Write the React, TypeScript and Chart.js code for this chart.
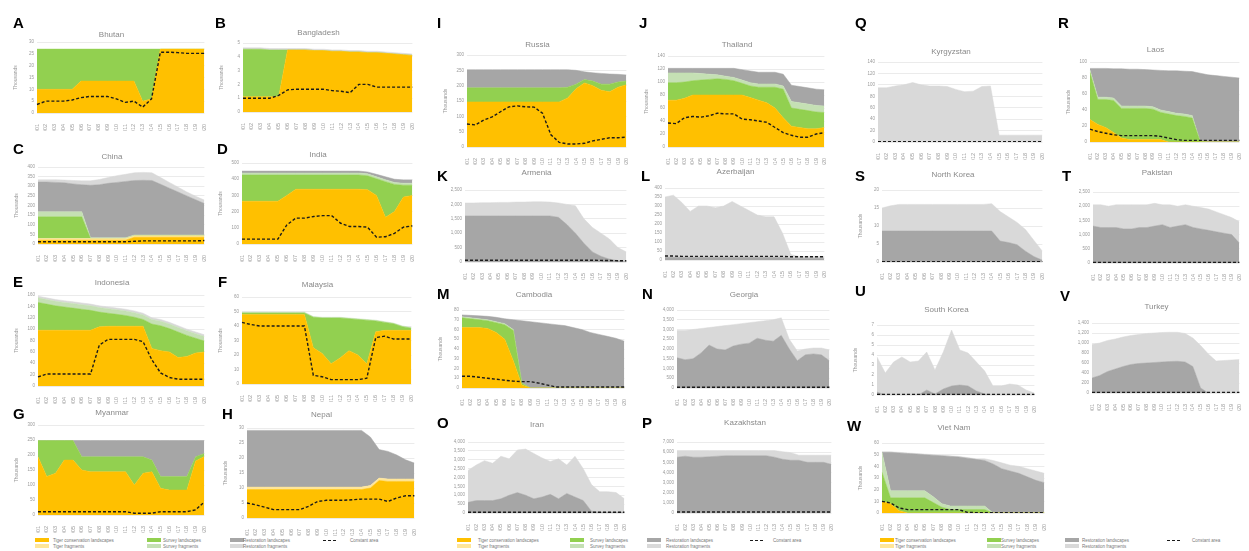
import React, { useEffect, useRef } from 'react';
import { Chart, registerables } from 'chart.js';
Chart.register(...registerables);
Chart.defaults.font.family = "'Liberation Sans', Arial, sans-serif";

const years = ['2001','2002','2003','2004','2005','2006','2007','2008','2009','2010','2011','2012','2013','2014','2015','2016','2017','2018','2019','2020'];

// A Bhutan
const bhutanTCL = [10,10,10,10,10,13.5,13.5,13.5,13.5,13.5,13.5,13.5,5,6,27,27,27,27,27,27];
const bhutanSurvey = [17,17,17,17,17,13.5,13.5,13.5,13.5,13.5,13.5,13.5,22,21,0,0,0,0,0,0];
const bhutanConst = [3.6,5,5,5,5.5,6.5,7,7,7,6,4.5,5,2.5,6,25.7,25.7,25.5,25.2,25.2,25.2];
// B Bangladesh
const bangladeshTCL = [1.1,1.1,1.1,1.1,1.1,4.5,4.5,4.5,4.45,4.45,4.4,4.4,4.35,4.35,4.3,4.3,4.25,4.2,4.15,4.1];
const bangladeshSurvey = [3.45,3.45,3.45,3.4,3.4,0,0,0,0,0,0,0,0,0,0,0,0,0,0,0];
const bangladeshRestFrag = [0.1,0.1,0.1,0.1,0.1,0.1,0.1,0.1,0.1,0.1,0.1,0.1,0.1,0.1,0.1,0.1,0.1,0.1,0.1,0.1];
const bangladeshConst = [1.0,1.0,1.0,1.0,1.2,1.6,1.65,1.65,1.65,1.65,1.55,1.5,1.4,2.0,2.0,1.8,1.8,1.8,1.8,1.8];
// C China
const chinaTCL = [20,20,20,20,20,20,20,20,20,20,20,35,35,35,35,35,35,35,35,35];
const chinaTCLFrag = [8,8,8,8,8,8,8,8,8,8,8,8,8,8,8,8,8,8,8,8];
const chinaSurvey = [113,113,113,113,113,113,0,0,0,0,0,0,0,0,0,0,0,0,0,0];
const chinaSurveyFrag = [26,26,26,26,26,26,4,4,4,4,4,4,4,4,4,4,4,4,4,4];
const chinaRest = [155,155,153,151,145,141,273,276,283,288,293,283,284,283,263,243,223,203,183,163];
const chinaRestFrag = [12,12,14,14,18,20,23,27,30,35,37,40,41,40,35,30,25,20,18,18];
const chinaConst = [12,12,12,12,12,12,12,12,12,12,12,14,16,16,16,16,16,16,16,18];
// D India
const indiaTCL = [264,264,264,264,264,300,338,338,338,338,338,338,338,338,335,300,165,200,290,300];
const indiaSurvey = [162,162,162,162,162,126,88,88,88,88,88,88,88,88,86,103,220,168,73,63];
const indiaSurveyFrag = [12,12,12,12,12,12,12,12,12,12,12,12,12,12,12,12,12,12,12,12];
const indiaRest = [12,12,12,12,12,12,12,12,12,12,12,12,12,12,12,15,18,20,20,20];
const indiaConst = [30,30,30,30,30,118,160,160,170,175,175,128,108,108,104,42,45,66,104,112];
// E Indonesia
const indonesiaTCL = [98,98,98,98,98,98,98,104,105,105,105,105,105,66,62,60,50,52,58,60];
const indonesiaSurvey = [49,46,43,41,39,37,35,26,23,21,19,16,12,43,44,41,45,37,26,19];
const indonesiaSurveyFrag = [8,8,8,8,8,8,8,8,8,8,8,8,8,8,8,8,8,8,8,8];
const indonesiaRestFrag = [3,3,3,3,3,3,3,3,3,3,3,3,3,3,3,3,3,3,3,3];
const indonesiaConst = [16,21,21,21,21,21,21,72,82,82,82,82,78,46,23,15,12,12,12,12];
// F Malaysia
const malaysiaTCL = [48,48,48,48,48,48,48,48,25,21,14,18,23,20,14,36,37,37,37,37];
const malaysiaSurvey = [1,1,1,1,1,1,1,1,21,24.5,31.5,27.5,22,24.5,30,7.5,5.5,4.5,2.5,1.5];
const malaysiaSurveyFrag = [0.5,0.5,0.5,0.5,0.5,0.5,0.5,0.5,0.5,0.5,0.5,0.5,0.5,0.5,0.5,0.5,0.5,0.5,0.5,0.5];
const malaysiaConst = [42.5,41,40,40,40,40,40,40,6,5,3,3,3,3,4,32,33,31,31,31];
// G Myanmar
const myanmarTCL = [194,128,139,183,183,150,144,144,144,144,144,100,139,144,89,83,83,83,180,195];
const myanmarSurvey = [54,120,109,65,65,44,50,50,50,50,50,94,55,39,39,45,45,45,14,10];
const myanmarRest = [0,0,0,0,0,54,54,54,54,54,54,54,54,65,120,120,120,120,54,43];
const myanmarConst = [11,11,11,11,11,11,11,11,11,11,11,6,6,6,11,11,11,11,17,44];
// H Nepal
const nepalTCL = [9.5,9.5,9.5,9.5,9.5,9.5,9.5,9.5,9.5,9.5,9.5,9.5,9.5,9.5,10,12.5,12.2,12.2,12.2,12.2];
const nepalTCLFrag = [0.8,0.8,0.8,0.8,0.8,0.8,0.8,0.8,0.8,0.8,0.8,0.8,0.8,0.8,0.8,0.8,0.8,0.8,0.8,0.8];
const nepalRest = [18.9,18.9,18.9,18.9,18.9,18.9,18.9,18.9,18.9,18.9,18.9,18.9,18.9,18.9,16.2,9.5,9.2,8,6.4,5.3];
const nepalConst = [5,4.4,3.6,2.8,2.8,2.8,2.8,3.9,5.5,5.9,5.9,5.9,6.1,6.3,6.3,6.3,5.5,6.7,7.4,7.4];
// I Russia
const russiaTCL = [147,147,147,147,147,147,147,147,147,147,147,147,160,190,209,200,185,180,195,203];
const russiaSurvey = [46,46,46,46,46,46,46,46,46,46,46,46,35,15,11,15,20,25,17,12];
const russiaRest = [59,59,59,59,59,59,59,59,59,59,59,59,57,45,25,27,35,33,25,20];
const russiaConst = [75,72,88,98,115,131,134,131,130,110,40,15,10,10,12,20,25,30,30,32];
// J Thailand
const thailandTCL = [72,72,75,80,80,80,80,80,80,80,76,72,68,60,45,32,30,28,28,30];
const thailandSurvey = [27,27,25,22,23,24,25,24,22,18,18,20,24,32,44,28,28,28,26,23];
const thailandSurveyFrag = [15,15,14,12,10,8,6,5,5,5,5,5,5,5,5,10,10,10,10,10];
const thailandRest = [7,7,7,7,8,9,10,12,14,16,18,18,18,18,18,25,25,25,25,25];
const thailandConst = [37,36,45,47,46,48,52,51,51,43,42,40,38,30,22,18,15,15,20,22];
// K Armenia
const armeniaRest = [1600,1600,1600,1600,1600,1600,1600,1600,1600,1600,1600,1550,1300,1000,650,350,200,100,50,20];
const armeniaRestFrag = [450,450,460,460,470,470,480,480,490,490,480,500,700,950,850,850,800,700,450,330];
const armeniaConst = [60,60,60,60,60,60,60,60,60,60,60,60,60,60,60,60,55,50,45,40];
// L Azerbaijan
const azerbaijanRest = [15,15,15,15,15,15,15,15,15,15,15,15,15,15,15,10,10,10,10,10];
const azerbaijanRestFrag = [335,345,305,255,285,285,275,285,310,285,260,235,225,225,135,20,10,10,10,10];
const azerbaijanConst = [22,22,20,20,20,20,20,20,20,20,20,20,20,20,20,18,18,18,18,18];
// M Cambodia
const cambodiaTCL = [62,62,62,61,57,50,28,3,0,0,0,0,0,0,0,0,0,0,0,0];
const cambodiaSurvey = [10,9,8,8,10,15,31,2,0,0,0,0,0,0,0,0,0,0,0,0];
const cambodiaSurveyFrag = [1,1,1,1,1,1,1,0,0,0,0,0,0,0,0,0,0,0,0,0];
const cambodiaRest = [2,2.5,3,3.5,4.5,5,10,64,68,67,66,65,64,62,60,57,55,53,51,48];
const cambodiaConst = [12,12,11,10,9,8,7,6.5,6.5,5,3,1,1,1,1,1,1,1,1,1];
// N Georgia
const georgiaRest = [1550,1450,1500,1800,2200,2000,1950,2150,2250,2300,2550,2450,2400,2700,2000,1400,1700,1750,1700,1400];
const georgiaRestFrag = [1400,1500,1500,1250,900,1150,1250,1100,1050,1050,850,1000,1100,900,500,500,300,300,350,550];
const georgiaConst = [40,40,40,40,40,40,40,40,40,40,40,40,40,40,40,40,40,40,40,40];
// O Iran
const iranRest = [600,700,700,700,800,1000,1150,1000,800,900,1050,800,1100,900,700,100,50,50,50,50];
const iranRestFrag = [1800,2000,2250,2100,2400,2050,2400,2600,2550,2200,1850,2250,1600,2300,1800,1500,1150,1150,1100,750];
const iranConst = [40,40,40,40,40,40,40,40,40,40,40,40,40,40,40,40,40,40,40,40];
// P Kazakhstan
const kazakhstanRest = [5500,5600,5500,5500,5550,5600,5650,5650,5650,5650,5650,5650,5500,5300,5200,5200,5000,5000,5000,4800];
const kazakhstanRestFrag = [650,550,650,650,600,550,500,500,500,500,500,500,650,750,750,500,700,700,700,900];
const kazakhstanConst = [100,100,100,100,100,100,100,100,100,100,100,100,100,100,100,100,100,100,100,100];
// Q Kyrgyzstan
const kyrgyzstanRestFrag = [95,95,98,100,104,100,98,98,97,92,88,89,97,98,12,12,12,12,12,12];
const kyrgyzstanConst = [0.5,0.5,0.5,0.5,0.5,0.5,0.5,0.5,0.5,0.5,0.5,0.5,0.5,0.5,0.5,0.5,0.5,0.5,0.5,0.5];
// R Laos
const laosTCL = [28,22,18,12,5,3,3,3,3,3,0,0,0,0,0,0,0,0,0,0];
const laosSurvey = [59,31,35,40,37,39,39,39,38,34,35,33,32,30,1,0,0,0,0,0];
const laosSurveyFrag = [3,3,3,3,3,3,3,3,3,3,3,3,3,3,0,0,0,0,0,0];
const laosRest = [2,36,36,36.5,46.5,46,46,45.5,46,49.5,51,53,53.5,55,85,84,83,82,81,80];
const laosConst = [16,13,11,9,8,8,8,8,8,7,5,3,2,2,2,2,2,2,2,2];
// S North Korea
const northKoreaRest = [8.6,8.6,8.6,8.6,8.6,8.6,8.6,8.6,8.6,8.6,8.6,8.6,8.6,8.6,5.8,5.4,4.8,3,1.5,0.5];
const northKoreaRestFrag = [6.4,7,7.4,7.4,7.4,7.4,7.4,7.4,7.4,7.4,7.4,7.4,7.4,7.6,8.2,7.1,6.2,6,4.5,2.5];
const northKoreaConst = [0.1,0.1,0.1,0.1,0.1,0.1,0.1,0.1,0.1,0.1,0.1,0.1,0.1,0.1,0.1,0.1,0.1,0.1,0.1,0.1];
// T Pakistan
const pakistanRest = [1300,1250,1250,1250,1200,1200,1250,1250,1300,1350,1250,1300,1350,1250,1200,1150,1100,1050,1000,700];
const pakistanRestFrag = [750,800,750,800,850,850,800,800,800,700,800,700,700,750,750,750,700,650,600,750];
const pakistanConst = [20,20,20,20,20,20,20,20,20,20,20,20,20,20,20,20,20,20,20,20];
// U South Korea
const southKoreaRest = [0.3,0,0,0,0,0,0.5,0.1,0.6,0.9,1.0,0.9,0.4,0.1,0,0,0,0,0,0];
const southKoreaRestFrag = [3.5,2.2,3.3,3.8,3.3,3.4,3.8,2.4,3.7,5.6,3.5,3.3,2.9,2.3,0.9,0.9,1.1,1.0,0.5,0.2];
const southKoreaConst = [0.05,0.05,0.05,0.05,0.05,0.05,0.05,0.05,0.05,0.05,0.05,0.05,0.05,0.05,0.05,0.05,0.05,0.05,0.05,0.05];
// V Turkey
const turkeyRest = [300,350,430,480,530,570,590,600,610,620,630,635,620,530,100,0,0,0,0,0];
const turkeyRestFrag = [670,650,620,600,590,580,580,590,590,590,585,580,570,570,850,780,640,650,660,670];
const turkeyConst = [10,10,10,10,10,10,10,10,10,10,10,10,10,10,10,10,10,10,10,10];
// W Viet Nam
const vietnamTCL = [10,8,2,0,0,0,0,0,0,0,0,0,0,0,0,0,0,0,0,0];
const vietnamSurvey = [25,5,11,13,13,13,9,5,3,3,3,3,3,0,0,0,0,0,0,0];
const vietnamSurveyFrag = [17,6,6,6,6,6,5,3,3,3,3,3,3,0,0,0,0,0,0,0];
const vietnamRest = [0,33,32.5,32,31.5,31,35.5,41,42.5,42,41,40,39,42,38,36,34,31,28,26];
const vietnamRestFrag = [0.5,0.5,0.5,0.5,0.5,0.5,0.5,0.5,0.5,0.5,0.5,0.5,1.5,3,5,5,6,7,8,8];
const vietnamConst = [10,8.6,4.3,2.9,2.9,2.9,2.9,2.9,2.9,2.9,0.5,0.3,0.3,0.3,0.2,0.2,0.2,0.2,0.2,0.2];

const seriesLabels = ['Tiger conservation landscapes','Tiger fragments','Survey landscapes','Survey fragments','Restoration landscapes','Restoration fragments'];
const constLabel = 'Constant area';
const COLORS = ['#FFC000','#FFE699','#92D050','#C5E0B4','#A6A6A6','#D9D9D9'];

type Series = (number[] | null)[];
type PanelDef = {
  letter: string; title: string; x: number; y: number; w: number; h: number; titleY: number;
  max: number; step: number; yTitle: boolean; series: Series; constant: number[];
  lx: number; ly: number;
};

const YW = 24;
const XH = 18;

const panels: PanelDef[] = [
  { letter:'A', title:'Bhutan', x:37, y:42, w:173, h:71, titleY:35, max:30, step:5, yTitle:true, series:[bhutanTCL,null,bhutanSurvey,null,null,null], constant:bhutanConst, lx:13, ly:17 },
  { letter:'B', title:'Bangladesh', x:243, y:43, w:175, h:69, titleY:33, max:5, step:1, yTitle:true, series:[bangladeshTCL,null,bangladeshSurvey,null,null,bangladeshRestFrag], constant:bangladeshConst, lx:215, ly:17 },
  { letter:'C', title:'China', x:38, y:167, w:172, h:77, titleY:157, max:400, step:50, yTitle:true, series:[chinaTCL,chinaTCLFrag,chinaSurvey,chinaSurveyFrag,chinaRest,chinaRestFrag], constant:chinaConst, lx:13, ly:143 },
  { letter:'D', title:'India', x:242, y:163, w:176, h:81, titleY:155, max:500, step:100, yTitle:true, series:[indiaTCL,null,indiaSurvey,indiaSurveyFrag,indiaRest,null], constant:indiaConst, lx:217, ly:143 },
  { letter:'E', title:'Indonesia', x:38, y:295, w:172, h:91, titleY:283, max:160, step:20, yTitle:true, series:[indonesiaTCL,null,indonesiaSurvey,indonesiaSurveyFrag,null,indonesiaRestFrag], constant:indonesiaConst, lx:13, ly:276 },
  { letter:'F', title:'Malaysia', x:242, y:297, w:175, h:87, titleY:285, max:60, step:10, yTitle:true, series:[malaysiaTCL,null,malaysiaSurvey,malaysiaSurveyFrag,null,null], constant:malaysiaConst, lx:218, ly:276 },
  { letter:'G', title:'Myanmar', x:38, y:425, w:172, h:90, titleY:413, max:300, step:50, yTitle:true, series:[myanmarTCL,null,myanmarSurvey,null,myanmarRest,null], constant:myanmarConst, lx:13, ly:408 },
  { letter:'H', title:'Nepal', x:247, y:428, w:173, h:90, titleY:415, max:30, step:5, yTitle:true, series:[nepalTCL,nepalTCLFrag,null,null,nepalRest,null], constant:nepalConst, lx:222, ly:408 },
  { letter:'I', title:'Russia', x:467, y:55, w:165, h:92, titleY:45, max:300, step:50, yTitle:true, series:[russiaTCL,null,russiaSurvey,null,russiaRest,null], constant:russiaConst, lx:437, ly:17 },
  { letter:'J', title:'Thailand', x:668, y:56, w:162, h:91, titleY:45, max:140, step:20, yTitle:true, series:[thailandTCL,null,thailandSurvey,thailandSurveyFrag,thailandRest,null], constant:thailandConst, lx:639, ly:17 },
  { letter:'K', title:'Armenia', x:465, y:190, w:167, h:72, titleY:173, max:2500, step:500, yTitle:false, series:[null,null,null,null,armeniaRest,armeniaRestFrag], constant:armeniaConst, lx:437, ly:170 },
  { letter:'L', title:'Azerbaijan', x:665, y:188, w:165, h:72, titleY:172, max:400, step:50, yTitle:false, series:[null,null,null,null,azerbaijanRest,azerbaijanRestFrag], constant:azerbaijanConst, lx:641, ly:170 },
  { letter:'M', title:'Cambodia', x:462, y:310, w:168, h:78, titleY:295, max:80, step:10, yTitle:true, series:[cambodiaTCL,null,cambodiaSurvey,cambodiaSurveyFrag,cambodiaRest,null], constant:cambodiaConst, lx:437, ly:288 },
  { letter:'N', title:'Georgia', x:677, y:310, w:158, h:78, titleY:295, max:4000, step:500, yTitle:false, series:[null,null,null,null,georgiaRest,georgiaRestFrag], constant:georgiaConst, lx:642, ly:288 },
  { letter:'O', title:'Iran', x:468, y:442, w:162, h:71, titleY:425, max:4000, step:500, yTitle:false, series:[null,null,null,null,iranRest,iranRestFrag], constant:iranConst, lx:437, ly:417 },
  { letter:'P', title:'Kazakhstan', x:677, y:442, w:160, h:71, titleY:423, max:7000, step:1000, yTitle:false, series:[null,null,null,null,kazakhstanRest,kazakhstanRestFrag], constant:kazakhstanConst, lx:642, ly:417 },
  { letter:'Q', title:'Kyrgyzstan', x:878, y:62, w:170, h:80, titleY:52, max:140, step:20, yTitle:false, series:[null,null,null,null,null,kyrgyzstanRestFrag], constant:kyrgyzstanConst, lx:855, ly:17 },
  { letter:'R', title:'Laos', x:1090, y:62, w:155, h:80, titleY:50, max:100, step:10, yTitle:true, series:[laosTCL,null,laosSurvey,laosSurveyFrag,laosRest,null], constant:laosConst, lx:1058, ly:17 },
  { letter:'S', title:'North Korea', x:882, y:190, w:166, h:72, titleY:175, max:20, step:5, yTitle:true, series:[null,null,null,null,northKoreaRest,northKoreaRestFrag], constant:northKoreaConst, lx:855, ly:170 },
  { letter:'T', title:'Pakistan', x:1093, y:192, w:152, h:71, titleY:173, max:2500, step:500, yTitle:false, series:[null,null,null,null,pakistanRest,pakistanRestFrag], constant:pakistanConst, lx:1062, ly:170 },
  { letter:'U', title:'South Korea', x:877, y:325, w:163, h:70, titleY:310, max:7, step:1, yTitle:true, series:[null,null,null,null,southKoreaRest,southKoreaRestFrag], constant:southKoreaConst, lx:855, ly:285 },
  { letter:'V', title:'Turkey', x:1092, y:323, w:153, h:70, titleY:307, max:1400, step:200, yTitle:false, series:[null,null,null,null,turkeyRest,turkeyRestFrag], constant:turkeyConst, lx:1060, ly:290 },
  { letter:'W', title:'Viet Nam', x:882, y:443, w:168, h:70, titleY:428, max:60, step:10, yTitle:true, series:[vietnamTCL,null,vietnamSurvey,vietnamSurveyFrag,vietnamRest,vietnamRestFrag], constant:vietnamConst, lx:847, ly:420 },
];

const TICK = '#9a9a9a';

function PanelChart({ p }: { p: PanelDef }) {
  const ref = useRef<HTMLCanvasElement>(null);
  const top = p.titleY - 6;
  const width = YW + p.w + 4;
  const height = p.y + p.h - top + XH;
  const padTop = 1.2;
  const padBottom = Math.max(0, p.y - top - 9.6 - padTop);
  useEffect(() => {
    const datasets: any[] = [];
    p.series.forEach((s, i) => {
      if (!s) return;
      datasets.push({
        label: seriesLabels[i], data: s, backgroundColor: COLORS[i], borderColor: COLORS[i],
        borderWidth: 0.5, pointRadius: 0, fill: datasets.length === 0 ? 'origin' : '-1',
        stack: 'area', order: 2, tension: 0,
      });
    });
    datasets.push({
      label: constLabel, data: p.constant, borderColor: '#1a1a1a', borderWidth: 1.4,
      borderDash: [3, 2], pointRadius: 0, fill: false, stack: 'line', order: 0,
    });
    const chart = new Chart(ref.current as HTMLCanvasElement, {
      type: 'line',
      data: { labels: years, datasets },
      options: {
        animation: false, responsive: false, maintainAspectRatio: false,
        layout: { padding: { left: 0, right: 4, top: 0, bottom: 0 } },
        plugins: {
          legend: { display: false }, tooltip: { enabled: false },
          title: { display: true, text: p.title, color: '#8a8a8a', font: { size: 8, weight: 'normal' }, padding: { top: padTop, bottom: padBottom } },
        },
        scales: {
          x: {
            grid: { display: false }, border: { display: false },
            ticks: { font: { size: 5.5 }, color: TICK, minRotation: 90, maxRotation: 90, autoSkip: false, padding: 3 },
            afterFit: (s: any) => { s.height = XH; },
          },
          y: {
            stacked: true, min: 0, max: p.max,
            grid: { color: '#e6e6e6', lineWidth: 0.8, drawTicks: false }, border: { display: false },
            ticks: { stepSize: p.step, font: { size: 4.5 }, color: TICK, padding: 3 },
            title: { display: p.yTitle, text: 'Thousands', font: { size: 5 }, color: TICK, padding: 0 },
            afterFit: (s: any) => { s.width = YW; },
          },
        },
      } as any,
    });
    return () => chart.destroy();
  }, []);
  return <canvas ref={ref} width={width} height={height}
    style={{ position: 'absolute', left: p.x - YW, top, width, height }} />;
}

const legendBlocks = [
  { y: 538, box: [35, 147, 230], text: [53, 163, 243], dash: 323, dashText: 350 },
  { y: 538, box: [457, 570, 647], text: [478, 590, 666], dash: 750, dashText: 773 },
  { y: 538, box: [880, 987, 1065], text: [895, 1001, 1082], dash: 1167, dashText: 1192 },
];

function Legend({ b }: { b: typeof legendBlocks[0] }) {
  const txt: React.CSSProperties = { position: 'absolute', fontSize: 4.5, lineHeight: '5px', color: '#777', whiteSpace: 'nowrap', fontFamily: "'Liberation Sans', Arial, sans-serif" };
  const items: any[] = [];
  for (let c = 0; c < 3; c++) {
    for (let r = 0; r < 2; r++) {
      const idx = c * 2 + r;
      const yy = b.y + r * 6;
      items.push(<div key={'b' + idx} style={{ position: 'absolute', left: b.box[c], top: yy, width: 14, height: 4, background: COLORS[idx] }} />);
      items.push(<div key={'t' + idx} style={{ ...txt, left: b.text[c], top: yy - 0.5 }}>{seriesLabels[idx]}</div>);
    }
  }
  items.push(<div key="d" style={{ position: 'absolute', left: b.dash, top: b.y + 1.5, width: 13, height: 0, borderTop: '1.5px dashed #1a1a1a' }} />);
  items.push(<div key="dt" style={{ ...txt, left: b.dashText, top: b.y - 0.5 }}>{constLabel}</div>);
  return <>{items}</>;
}

export default function App() {
  return (
    <div style={{ position: 'absolute', left: 0, top: 0, width: 1249, height: 551, background: '#fff', overflow: 'hidden' }}>
      {panels.map((p) => <PanelChart key={p.letter} p={p} />)}
      {panels.map((p) => (
        <div key={'L' + p.letter} style={{ position: 'absolute', left: p.lx, top: p.ly - 2, fontSize: 15, lineHeight: '15px', fontWeight: 'bold', fontFamily: "'Liberation Sans', Arial, sans-serif", color: '#000' }}>{p.letter}</div>
      ))}
      {legendBlocks.map((b, i) => <Legend key={i} b={b} />)}
    </div>
  );
}
